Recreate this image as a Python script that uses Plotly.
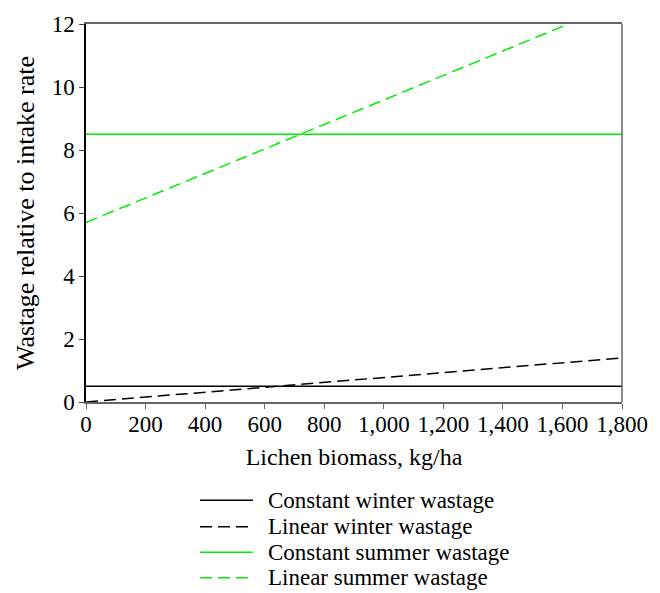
import plotly.graph_objects as go

biomass = [0, 1800]
const_winter = [0.5, 0.5]
linear_winter = [0.0, 1.4]
const_summer = [8.5, 8.5]
linear_summer_x = [0, 1620]
linear_summer = [5.7, 12.0]

names = ["Constant winter wastage", "Linear winter wastage",
         "Constant summer wastage", "Linear summer wastage"]
colors = ["black", "black", "#00ee00", "#00ee00"]
dashes = ["solid", "12px,6px", "solid", "12px,6px"]

xs = [biomass, biomass, biomass, linear_summer_x]
ys = [const_winter, linear_winter, const_summer, linear_summer]

FONT = "Liberation Serif"
fig = go.Figure()
for x, y, n, c, d in zip(xs, ys, names, colors, dashes):
    fig.add_trace(go.Scatter(x=x, y=y, mode="lines", name=n,
                             line=dict(color=c, width=1.5, dash=d),
                             showlegend=False, cliponaxis=True))

# manual legend below the plot
row_y = [502, 529, 555, 581]
top, bottom = 17, 402
for n, c, d, ry in zip(names, colors, dashes, row_y):
    yp = (bottom - ry) / (bottom - top)
    fig.add_shape(type="line", xref="paper", yref="paper",
                  x0=(200 - 86) / 536, x1=(253 - 86) / 536, y0=yp, y1=yp,
                  line=dict(color=c, width=1.5, dash=d))
    fig.add_annotation(text=n, xref="paper", yref="paper",
                       x=(266 - 86) / 536, y=yp, xanchor="left", yanchor="middle",
                       showarrow=False, font=dict(family=FONT, size=23, color="black"))

# right frame line
fig.add_shape(type="line", xref="paper", yref="paper", x0=1, x1=1, y0=0, y1=1,
              line=dict(color="#666666", width=1.5))

fig.update_layout(
    width=660, height=593,
    margin=dict(l=86, r=38, t=17, b=191),
    paper_bgcolor="white", plot_bgcolor="white",
    font=dict(family=FONT, size=23, color="black"),
    showlegend=False,
    xaxis=dict(range=[0, 1800], tickvals=[0, 200, 400, 600, 800, 1000, 1200, 1400, 1600, 1800],
               ticktext=["0", "200", "400", "600", "800", "1,000", "1,200", "1,400", "1,600", "1,800"],
               ticks="outside", ticklen=5, tickcolor="#666666", showgrid=False, zeroline=False,
               showline=True, linecolor="#666666", linewidth=1.5, mirror=True,
               tickfont=dict(size=23), ticklabelstandoff=-4,
               title=dict(text="Lichen biomass, kg/ha", font=dict(size=24), standoff=12)),
    yaxis=dict(range=[0, 12], tickvals=[0, 2, 4, 6, 8, 10, 12],
               ticks="outside", ticklen=5, tickcolor="#444444", showgrid=False, zeroline=False,
               showline=True, linecolor="black", linewidth=1.5,
               tickfont=dict(size=23),
               title=dict(text="Wastage relative to intake rate", font=dict(size=26), standoff=10)),
)

fig.write_html("out.html")
